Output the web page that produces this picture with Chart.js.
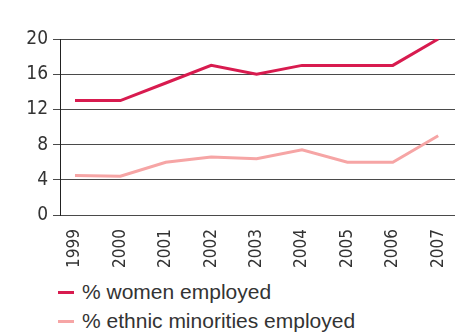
<!DOCTYPE html>
<html>
<head>
<meta charset="utf-8">
<script src="https://cdn.jsdelivr.net/npm/chart.js@4/dist/chart.umd.min.js"></script>
<style>
  body { margin: 0; background: #fff; }
  #wrap { position: relative; width: 455px; height: 333px; }
  #chart { position: absolute; left: 0; top: 0; }
  #legend { position: absolute; left: 58px; top: 278px; font-family: 'Liberation Sans', Arial, sans-serif; font-size: 21px; color: #333; }
  .item { height: 29px; line-height: 28px; white-space: nowrap; }
  .mark { display: inline-block; width: 16px; height: 3px; vertical-align: middle; margin-right: 8px; position: relative; top: -1px; }
</style>
</head>
<body>
<div id="wrap">
  <canvas id="chart" width="455" height="268"></canvas>
  <div id="legend"></div>
</div>
<script>
const years = [1999, 2000, 2001, 2002, 2003, 2004, 2005, 2006, 2007];
const women = [13, 13, 15, 17, 16, 17, 17, 17, 20];
const ethnic = [4.5, 4.4, 6.0, 6.6, 6.4, 7.4, 6.0, 6.0, 9.0];
const yTicks = [0, 4, 8, 12, 16, 20];
const seriesNames = ['% women employed', '% ethnic minorities employed'];
const seriesColors = ['#d81b4f', '#f6a5a5'];

const narrow = "'DejaVu Sans Condensed', 'Liberation Sans', sans-serif";

const toPoints = (vals) => years.map((y, i) => ({ x: y, y: vals[i] }));

const chart = new Chart(document.getElementById('chart'), {
  type: 'line',
  data: {
    datasets: [
      { label: seriesNames[0], data: toPoints(women), borderColor: seriesColors[0], borderWidth: 3 },
      { label: seriesNames[1], data: toPoints(ethnic), borderColor: seriesColors[1], borderWidth: 3 },
    ],
  },
  options: {
    responsive: false,
    animation: false,
    events: [],
    layout: { padding: { top: 39, right: 0, left: 0, bottom: 0 } },
    elements: {
      point: { radius: 0 },
      line: { tension: 0, borderCapStyle: 'butt' },
    },
    plugins: {
      legend: { display: false },
      tooltip: { enabled: false },
    },
    scales: {
      x: {
        type: 'linear',
        min: 1998.67,
        max: 2007.37,
        afterBuildTicks: (s) => { s.ticks = years.map((v) => ({ value: v })); },
        afterFit: (s) => {
          s.height = 53;
          s.paddingLeft = 0;
          s.paddingRight = 0;
        },
        grid: { display: false },
        border: { display: false },
        ticks: {
          minRotation: 90,
          maxRotation: 90,
          padding: 6,
          color: '#333',
          font: { family: narrow, size: 17 },
          callback: (v) => String(v),
        },
      },
      y: {
        min: 0,
        max: 20,
        afterBuildTicks: (s) => { s.ticks = yTicks.map((v) => ({ value: v })); },
        afterFit: (s) => { s.width = 60; },
        grid: { color: '#4a4a4a', lineWidth: 1, tickLength: 7 },
        border: { display: true, color: '#222', width: 1 },
        ticks: {
          padding: 5,
          color: '#333',
          font: { family: narrow, size: 19 },
        },
      },
    },
  },
});

// html legend built from the datasets
const legend = document.getElementById('legend');
chart.data.datasets.forEach((ds) => {
  const row = document.createElement('div');
  row.className = 'item';
  const mark = document.createElement('span');
  mark.className = 'mark';
  mark.style.background = ds.borderColor;
  row.appendChild(mark);
  row.appendChild(document.createTextNode(ds.label));
  legend.appendChild(row);
});
</script>
</body>
</html>
